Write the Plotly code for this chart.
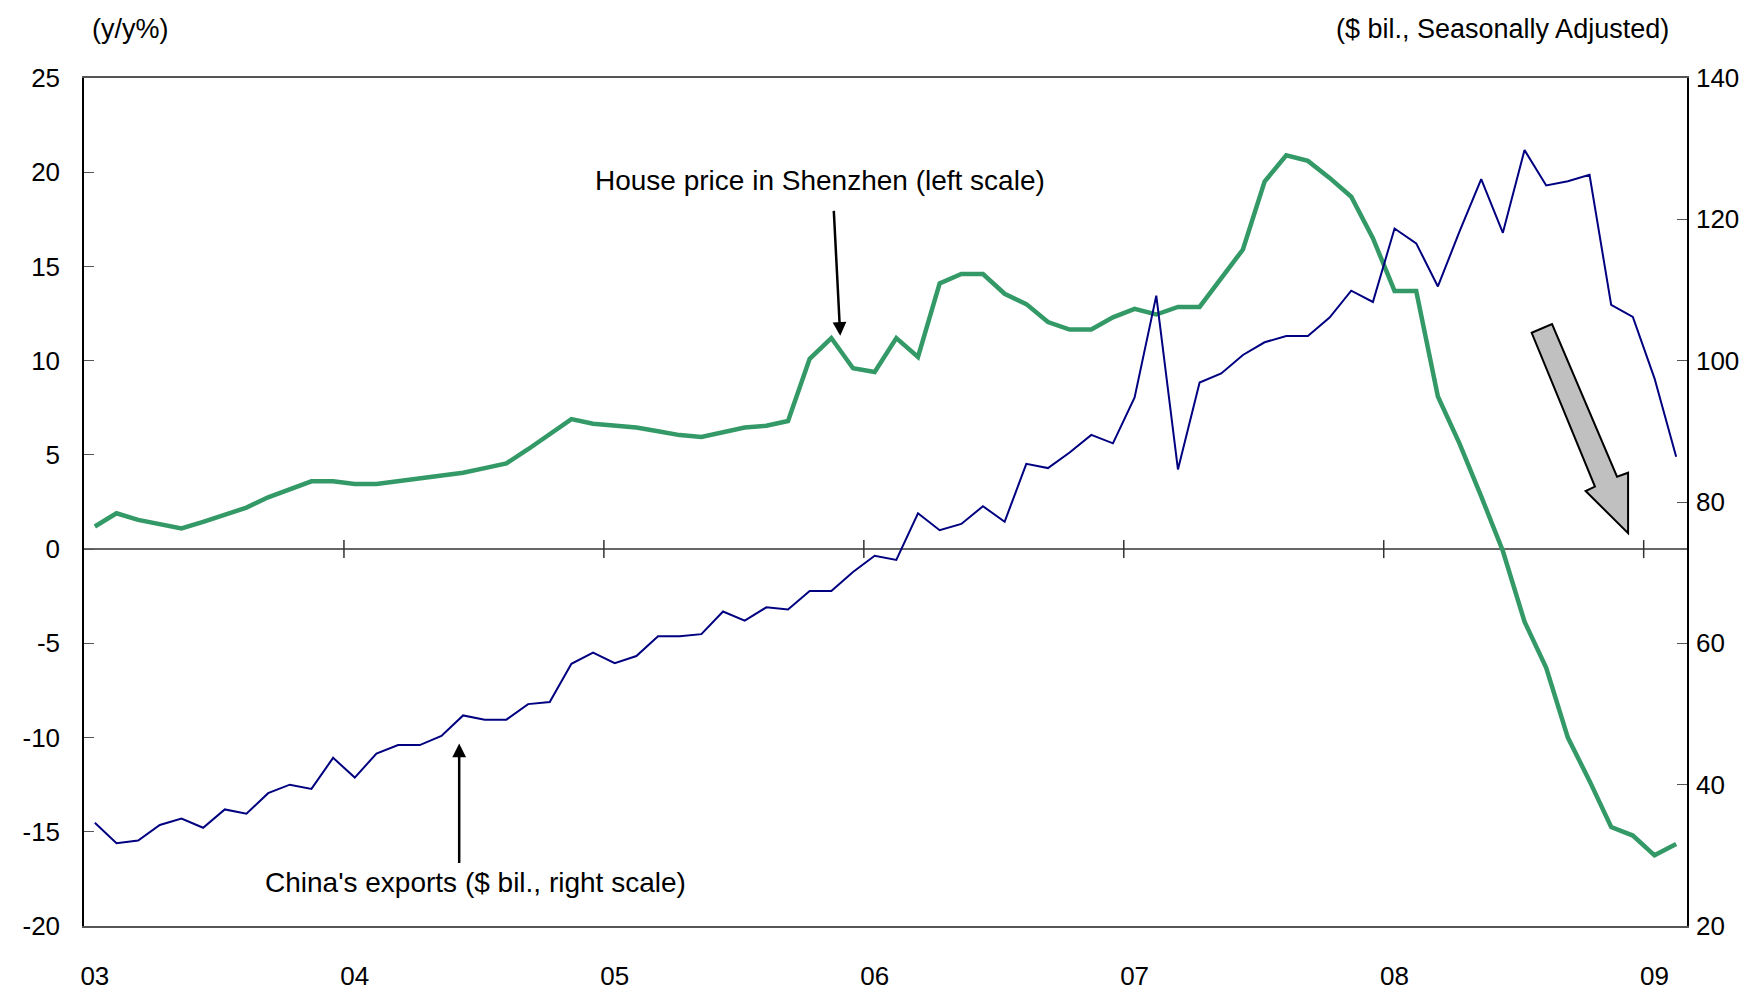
import plotly.graph_objects as go

# Monthly data, Jan 2003 .. Feb 2009 (74 months)
month_index = list(range(74))
year_labels = ["03", "04", "05", "06", "07", "08", "09"]
left_ticks = [-20, -15, -10, -5, 0, 5, 10, 15, 20, 25]
right_ticks = [20, 40, 60, 80, 100, 120, 140]

house_price_yoy = [
    1.2, 1.9, 1.55, 1.35, 1.1, 1.45, 1.8, 2.2, 2.75, 3.2, 3.6, 3.6,
    3.45, 3.45, 3.6, 3.7, 3.85, 4.05, 4.3, 4.55, 5.3, 6.1, 6.9, 6.65,
    6.55, 6.45, 6.25, 6.05, 5.95, 6.2, 6.45, 6.55, 6.8, 10.1, 11.2, 9.6,
    9.4, 11.2, 10.2, 14.1, 14.6, 14.6, 13.55, 13.0, 12.05, 11.65, 11.65, 12.3,
    12.75, 12.45, 12.85, 12.85, 14.4, 15.9, 19.5, 20.9, 20.6, 19.7, 18.7, 16.5,
    13.7, 13.7, 8.1, 5.6, 2.8, -0.1, -3.85, -6.3, -10.0, -12.3, -14.75, -15.2,
    -16.25, -15.65,
]

china_exports = [
    34.6, 31.7, 32.1, 34.3, 35.2, 33.9, 36.5, 35.9, 38.8, 40.0, 39.4, 43.8,
    41.0, 44.4, 45.6, 45.6, 46.9, 49.8, 49.2, 49.2, 51.4, 51.7, 57.1, 58.7,
    57.2, 58.2, 61.0, 61.0, 61.3, 64.5, 63.2, 65.1, 64.8, 67.4, 67.4, 70.1,
    72.4, 71.8, 78.4, 76.0, 76.9, 79.4, 77.2, 85.4, 84.8, 87.0, 89.5, 88.3,
    94.8, 109.2, 84.6, 96.9, 98.2, 100.8, 102.6, 103.5, 103.5, 106.1, 109.9, 108.3,
    118.7, 116.6, 110.5, 118.3, 125.7, 118.1, 129.8, 124.8, 125.4, 126.3, 107.9, 106.2,
    97.5, 86.4,
]

FONT = "Arial, Liberation Sans, sans-serif"
GREEN = "#339966"
NAVY = "#000080"
TICK_SIZE = 26
TEXT_SIZE = 27

fig = go.Figure()
fig.add_trace(go.Scatter(x=month_index, y=house_price_yoy, mode="lines",
                         line=dict(color=GREEN, width=4.5), yaxis="y",
                         name="House price in Shenzhen"))
fig.add_trace(go.Scatter(x=month_index, y=china_exports, mode="lines",
                         line=dict(color=NAVY, width=2), yaxis="y2",
                         name="China's exports"))

year_tick_vals = [12 * i for i in range(len(year_labels))]
boundaries = [12 * i - 0.5 for i in range(1, len(year_labels))]

shapes = []
for b in boundaries:
    shapes.append(dict(type="line", xref="x", yref="y", xsizemode="scaled",
                       ysizemode="pixel", yanchor=0, x0=b, x1=b, y0=-9, y1=9,
                       line=dict(color="#333333", width=1.5)))

# Grey block arrow (decoration)
arrow_pts = [(66.33, 11.48), (67.27, 11.94), (70.27, 3.84), (70.78, 4.05),
             (70.78, 0.85), (68.82, 3.08), (69.25, 3.32)]
path = "M " + " L ".join(f"{px},{py}" for px, py in arrow_pts) + " Z"
shapes.append(dict(type="path", xref="x", yref="y", path=path,
                   fillcolor="#c0c0c0", line=dict(color="black", width=2)))

annotations = [
    dict(text="(y/y%)", xref="paper", yref="paper", x=0.004, y=1.058,
         xanchor="left", yanchor="middle", showarrow=False,
         font=dict(size=TEXT_SIZE, color="black", family=FONT)),
    dict(text="($ bil., Seasonally Adjusted)", xref="paper", yref="paper",
         x=0.99, y=1.058, xanchor="right", yanchor="middle", showarrow=False,
         font=dict(size=TEXT_SIZE, color="black", family=FONT)),
    dict(text="House price in Shenzhen (left scale)", xref="x", yref="y",
         x=23.0, y=19.58, xanchor="left", yanchor="middle", showarrow=False,
         font=dict(size=TEXT_SIZE + 1, color="black", family=FONT)),
    dict(text="China's exports ($ bil., right scale)", xref="x", yref="y",
         x=7.76, y=-17.68, xanchor="left", yanchor="middle", showarrow=False,
         font=dict(size=TEXT_SIZE + 1, color="black", family=FONT)),
    dict(text="", xref="x", yref="y", x=34.41, y=11.32, axref="x", ayref="y",
         ax=34.11, ay=18.03, showarrow=True, arrowhead=2, arrowsize=1.1,
         arrowwidth=2.5, arrowcolor="black", standoff=0),
    dict(text="", xref="x", yref="y", x=16.82, y=-10.31, axref="x", ayref="y",
         ax=16.82, ay=-16.73, showarrow=True, arrowhead=2, arrowsize=1.1,
         arrowwidth=2.5, arrowcolor="black", standoff=0),
]

fig.update_layout(
    width=1754, height=995,
    margin=dict(l=76, r=75, t=70, b=54),
    paper_bgcolor="white", plot_bgcolor="white",
    showlegend=False,
    font=dict(family=FONT, size=TICK_SIZE, color="black"),
    xaxis=dict(range=[-0.5, 73.5], tickvals=year_tick_vals, ticktext=year_labels,
               ticks="", showgrid=False, zeroline=False, showline=True,
               mirror=True, linecolor="#555555", linewidth=1.5,
               ticklabelstandoff=26, tickfont=dict(size=TICK_SIZE)),
    yaxis=dict(range=[-20, 25], tickvals=left_ticks,
               ticktext=[str(v) for v in left_ticks],
               ticks="inside", ticklen=10,
               tickcolor="#555555", showgrid=False, showline=True,
               linecolor="black", linewidth=1.5, zeroline=True,
               zerolinecolor="#666666", zerolinewidth=1.5,
               ticklabelstandoff=17, tickfont=dict(size=TICK_SIZE)),
    yaxis2=dict(range=[20, 140], tickvals=right_ticks,
                ticktext=[str(v) for v in right_ticks],
                overlaying="y", side="right",
                ticks="inside", ticklen=10, tickcolor="#555555",
                showgrid=False, showline=True, linecolor="black",
                linewidth=1.5, zeroline=False, ticklabelstandoff=2,
                tickfont=dict(size=TICK_SIZE)),
    shapes=shapes,
    annotations=annotations,
)

fig.write_html("out.html")
